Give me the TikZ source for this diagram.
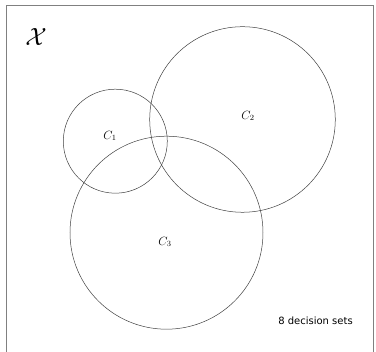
\documentclass[tikz,border=0pt]{standalone}
\usepackage{fontspec}
\newfontfamily\labelfont{DejaVu Sans}

\begin{document}
\begin{tikzpicture} [x=1pt,y=1pt]

%\draw [step=10pt, dotted, thin] (0,0) grid (376,352);
\useasboundingbox (0,0) rectangle (376,352);

\draw [gray, line width=0.8pt] (6,0) -- (6,347) -- (373,347) -- (373,0);

\coordinate (c1) at (115.3,210.8);
\coordinate (c2) at (242.5,232.5);
\coordinate (c3) at (166.5,119.3);
\draw [black!75, line width=0.5pt] (c1) circle (52);
\draw [black!75, line width=0.5pt] (c2) circle (92.8);
\draw [black!75, line width=0.5pt] (c3) circle (96.5);

\node (space) at (36,315) {\Huge $\mathcal{X}$};
\node (lab1) at (110,216) {\large $C_1$};
\node (lab2) at (248,236) {\large $C_2$};
\node (lab3) at (165,110) {\large $C_3$};
\node (count) at (315.5,31) {\labelfont 8 decision sets};

\end{tikzpicture}
\end{document}
